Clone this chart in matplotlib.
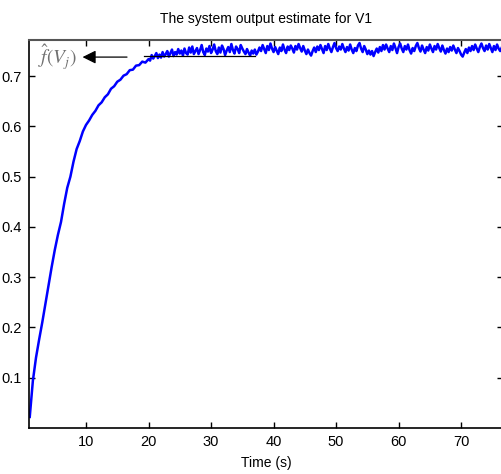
import numpy as np
import matplotlib.pyplot as plt

plt.rcParams['font.family'] = ['Liberation Sans', 'DejaVu Sans']
plt.rcParams['mathtext.fontset'] = 'stix'

# rising part, sampled every 0.5 s from t = 1 s to t = 20 s
rise_est = [
    0.022, 0.094, 0.140, 0.176, 0.210, 0.247, 0.285, 0.320, 0.354, 0.384,
    0.410, 0.446, 0.478, 0.500, 0.530, 0.555, 0.571, 0.590, 0.603, 0.612,
    0.623, 0.631, 0.642, 0.648, 0.658, 0.664, 0.675, 0.680, 0.689, 0.693,
    0.701, 0.704, 0.712, 0.713, 0.721, 0.722, 0.729, 0.727, 0.734,
]

# plateau part, sampled every 0.25 s from t = 20.25 s to t = 76.5 s
plateau_est = [
    0.731, 0.742, 0.735, 0.740, 0.746, 0.736, 0.743, 0.737, 0.748, 0.739,
    0.744, 0.750, 0.739, 0.746, 0.753, 0.740, 0.748, 0.743, 0.754, 0.745,
    0.751, 0.741, 0.755, 0.746, 0.743, 0.757, 0.747, 0.759, 0.744, 0.750,
    0.756, 0.744, 0.752, 0.762, 0.748, 0.742, 0.755, 0.749, 0.760, 0.746,
    0.753, 0.763, 0.750, 0.744, 0.757, 0.747, 0.761, 0.754, 0.742, 0.751,
    0.758, 0.748, 0.764, 0.752, 0.745, 0.759, 0.754, 0.746, 0.762, 0.755,
    0.749, 0.744, 0.754, 0.747, 0.741, 0.751, 0.745, 0.753, 0.743, 0.749,
    0.757, 0.750, 0.762, 0.754, 0.746, 0.760, 0.752, 0.765, 0.755, 0.748,
    0.758, 0.751, 0.744, 0.757, 0.750, 0.763, 0.753, 0.746, 0.759, 0.752,
    0.761, 0.755, 0.747, 0.760, 0.753, 0.764, 0.756, 0.749, 0.760, 0.751,
    0.744, 0.753, 0.746, 0.741, 0.750, 0.757, 0.748, 0.759, 0.752, 0.762,
    0.754, 0.746, 0.760, 0.752, 0.764, 0.755, 0.748, 0.758, 0.766, 0.756,
    0.750, 0.759, 0.753, 0.764, 0.755, 0.748, 0.758, 0.751, 0.763, 0.753,
    0.746, 0.756, 0.750, 0.761, 0.766, 0.755, 0.748, 0.760, 0.753, 0.744,
    0.751, 0.743, 0.750, 0.740, 0.748, 0.755, 0.747, 0.758, 0.750, 0.762,
    0.753, 0.763, 0.755, 0.748, 0.760, 0.752, 0.765, 0.756, 0.746, 0.758,
    0.765, 0.755, 0.748, 0.760, 0.753, 0.763, 0.752, 0.745, 0.756, 0.750,
    0.760, 0.766, 0.756, 0.749, 0.761, 0.753, 0.746, 0.758, 0.751, 0.763,
    0.755, 0.748, 0.760, 0.753, 0.764, 0.756, 0.749, 0.761, 0.752, 0.745,
    0.755, 0.748, 0.758, 0.751, 0.761, 0.753, 0.746, 0.756, 0.750, 0.743,
    0.739, 0.747, 0.754, 0.746, 0.757, 0.750, 0.760, 0.752, 0.763, 0.755,
    0.748, 0.758, 0.765, 0.756, 0.750, 0.761, 0.753, 0.764, 0.756, 0.748,
    0.760, 0.752, 0.763, 0.755, 0.750, 0.757,
]

t_rise = 1.0 + 0.5 * np.arange(len(rise_est))
t_plateau = 20.25 + 0.25 * np.arange(len(plateau_est))
time = np.concatenate([t_rise, t_plateau])
output_est = np.concatenate([rise_est, plateau_est])

# short black reference segment near the plateau
ref_level = 0.741
ref_from, ref_to = 19.3, 37.0

# annotation: label position and arrow start/end
label_xy = (5.4, 0.738)
arrow_tail = (17.0, 0.738)
arrow_head = (9.0, 0.738)

xticks = [10, 20, 30, 40, 50, 60, 70]
yticks = [0.1, 0.2, 0.3, 0.4, 0.5, 0.6, 0.7]

fig = plt.figure(figsize=(5.02, 4.74), dpi=100)
ax = fig.add_axes([29 / 502, 46 / 474, 474 / 502, 388 / 474])

ax.plot(time, output_est, color='#0000ff', linewidth=1.8)
ax.plot([ref_from, ref_to], [ref_level, ref_level], color='black', linewidth=0.9)

ax.annotate('', xy=arrow_head, xytext=arrow_tail,
            arrowprops=dict(arrowstyle='-|>', color='black', lw=0.9,
                            mutation_scale=20))
ax.text(label_xy[0], label_xy[1], r'$\hat{f}(V_j)$', color='#707070',
        fontsize=14, ha='center', va='center')

ax.set_xlim(0.88, 76.7)
ax.set_ylim(0.0, 0.772)
ax.set_xticks(xticks)
ax.set_yticks(yticks)
ax.set_xticklabels([str(v) for v in xticks])
ax.set_yticklabels([f'{v:.1f}' for v in yticks])
ax.tick_params(direction='in', length=4, width=1, labelsize=10.5,
               top=True, right=True, pad=5)
for side in ['left', 'bottom']:
    ax.spines[side].set_linewidth(1.2)
ax.spines['top'].set_color('#555555')
ax.spines['top'].set_linewidth(1.5)

ax.set_title('The system output estimate for V1', fontsize=10, pad=12)
ax.set_xlabel('Time (s)', fontsize=10, labelpad=5)

fig.savefig('out.png', dpi=100)
